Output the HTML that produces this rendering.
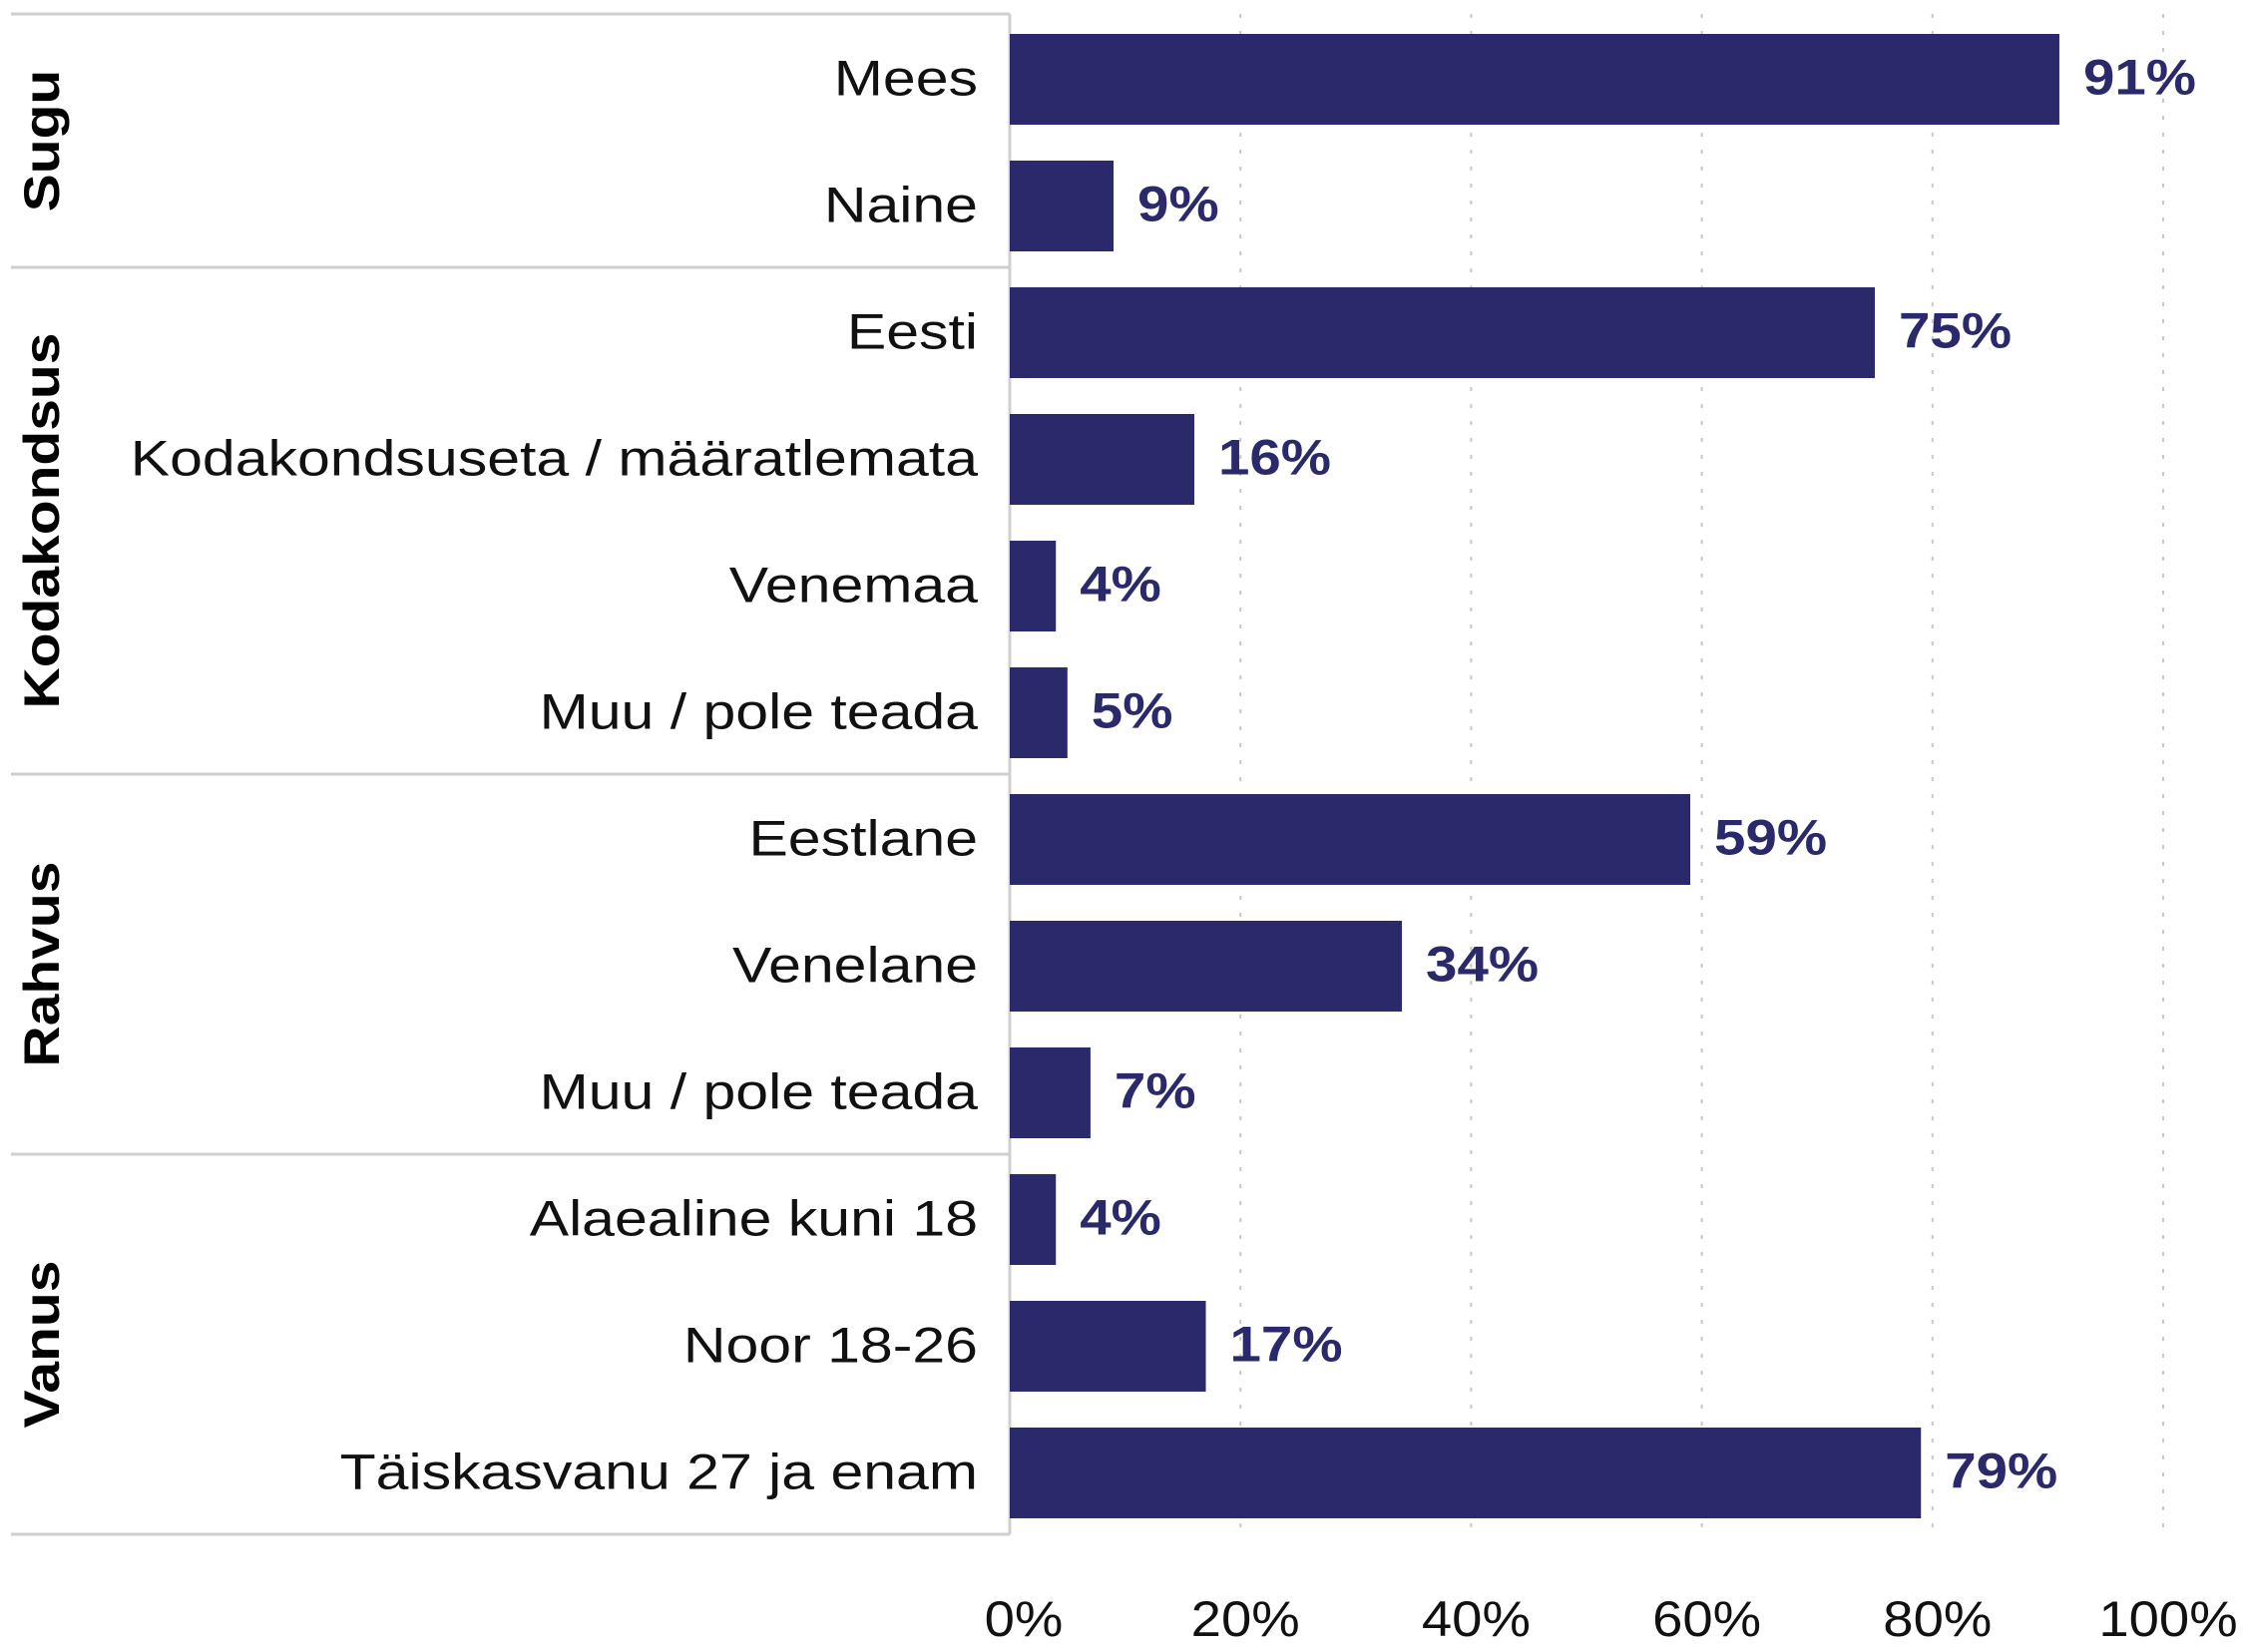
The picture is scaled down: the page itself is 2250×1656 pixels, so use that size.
<!DOCTYPE html>
<html><head><meta charset="utf-8"><style>
html,body{margin:0;padding:0;background:#fff}
svg{display:block}
text{font-family:"Liberation Sans",sans-serif}
</style></head><body>
<svg id="chart" width="2250" height="1656" viewBox="0 0 2250 1656" xmlns="http://www.w3.org/2000/svg"></svg>
<script>
const categories = ["Mees","Naine","Eesti","Kodakondsuseta / määratlemata","Venemaa","Muu / pole teada","Eestlane","Venelane","Muu / pole teada","Alaealine kuni 18","Noor 18-26","Täiskasvanu 27 ja enam"];
const values = [91,9,75,16,4,5,59,34,7,4,17,79];
const groupNames = ["Sugu","Kodakondsus","Rahvus","Vanus"];
const groupSizes = [2,4,3,3];
const tickValues = [0,20,40,60,80,100];
const tickLabels = ["0%","20%","40%","60%","80%","100%"];

const svg = document.getElementById('chart');
const NS = "http://www.w3.org/2000/svg";
const X0 = 1012, X1 = 2168, TOP = 14, ROW = 127, BAR_OFF = 20, BAR_H = 91;
const x = v => X0 + (X1 - X0) * v / 100;
const yRow = i => TOP + i * ROW;
const BOTTOM = yRow(categories.length);
function mk(tag, attrs, parent) {
  const e = document.createElementNS(NS, tag);
  for (const k in attrs) e.setAttribute(k, attrs[k]);
  (parent || svg).appendChild(e);
  return e;
}
tickValues.forEach((t, i) => {
  if (t === 0) return;
  const g = mk('line', {x1: x(t), x2: x(t), y1: TOP, y2: BOTTOM + 4, stroke: '#c8c8c8', 'stroke-width': 2, 'stroke-dasharray': '4 13'});
  
  
});
tickValues.forEach((t, i) => {
  const tl = mk('text', {x: 0, y: 0, 'font-size': 50, 'text-anchor': 'middle', fill: '#111', transform: `translate(${x(t) + (t === 0 ? 14 : 5)} 1640) scale(1.09 1)`});
  tl.textContent = tickLabels[i];
  
  
});
let acc = 0;
const sepRows = [0];
groupSizes.forEach(s => { acc += s; sepRows.push(acc); });
sepRows.forEach(r => {
  const l = mk('line', {x1: 11, x2: X0, y1: yRow(r), y2: yRow(r), stroke: '#cfcfcf', 'stroke-width': 3});
  
  
});
const ax = mk('line', {x1: X0, x2: X0, y1: TOP, y2: BOTTOM, stroke: '#cfcfcf', 'stroke-width': 3});


let start = 0;
groupNames.forEach((g, i) => {
  const cy = (yRow(start) + yRow(start + groupSizes[i])) / 2;
  const t = mk('text', {x: 0, y: 0, 'font-size': 50, 'font-weight': 'bold', 'text-anchor': 'middle', fill: '#000', transform: `translate(59 ${cy}) rotate(-90) scale(1.14 1)`});
  t.textContent = g;
  
  
  start += groupSizes[i];
});
categories.forEach((c, i) => {
  const yb = yRow(i) + BAR_OFF;
  const r = mk('rect', {x: X0, y: yb, width: x(values[i]) - X0, height: BAR_H, fill: '#29296b'});
  
  
  const lab = mk('text', {x: 0, y: 0, 'font-size': 50, 'text-anchor': 'end', fill: '#111', transform: `translate(980 ${yb + BAR_H / 2 + 16}) scale(1.18 1)`});
  lab.textContent = c;
  
  
  const v = mk('text', {x: 0, y: 0, 'font-size': 50, 'font-weight': 'bold', fill: '#29296b', transform: `translate(${x(values[i]) + 24} ${yb + BAR_H / 2 + 15}) scale(1.13 1)`});
  v.textContent = values[i] + '%';
  
  
});
</script>
</body></html>
